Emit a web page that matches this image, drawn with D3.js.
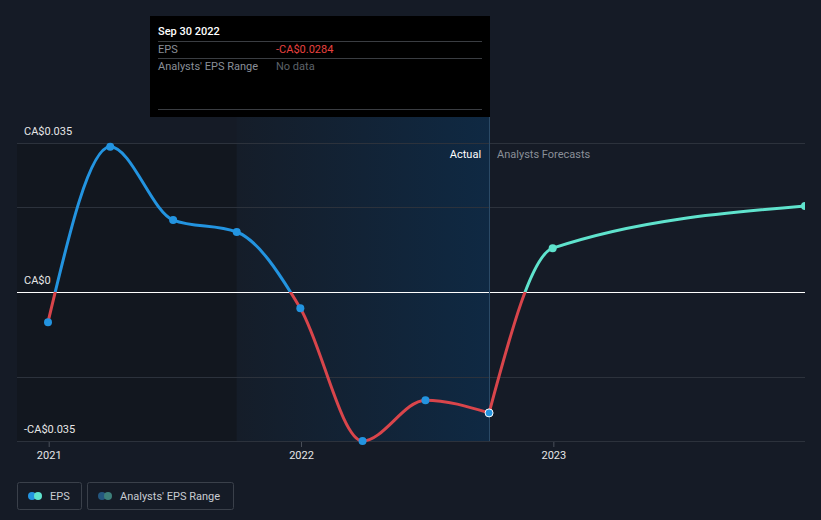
<!DOCTYPE html>
<html>
<head>
<meta charset="utf-8">
<script src="https://cdn.jsdelivr.net/npm/d3@7"></script>
<style>
  body { margin: 0; background: #151b26; }
  svg { display: block; font-family: Roboto, "Noto Sans", sans-serif; }
</style>
</head>
<body>
<div class="chart"></div>
<script>
const w = 821;
const h = 520;

// data
const actualDates = ["2020-12-31", "2021-03-31", "2021-06-30", "2021-09-30", "2021-12-31", "2022-03-31", "2022-06-30", "2022-09-30"];
const actualEps = [-0.0071, 0.0341, 0.0169, 0.0141, -0.0038, -0.0350, -0.0254, -0.0284];
const forecastDates = ["2022-09-30", "2022-12-31", "2023-12-31"];
const forecastEps = [-0.0284, 0.0103, 0.0202];
const yTicks = [-0.035, 0, 0.035];
const yGrid = [-0.035, -0.02, 0, 0.02, 0.035];
const yTickLabels = ["-CA$0.035", "CA$0", "CA$0.035"];
const xTicks = ["2021-01-01", "2022-01-01", "2023-01-01"];
const legendItems = ["EPS", "Analysts' EPS Range"];

const parse = d3.timeParse("%Y-%m-%d");
const actual = actualDates.map((d, i) => ({ date: parse(d), v: actualEps[i] }));
const forecast = forecastDates.map((d, i) => ({ date: parse(d), v: forecastEps[i] }));

const plotL = 17, plotR = 805, plotT = 143, plotB = 441;

const svg = d3.select(".chart").append("svg")
    .attr("width", w)
    .attr("height", h);

const xScale = d3.scaleTime()
    .domain([parse("2020-12-31"), parse("2023-12-31")])
    .range([48, 805]);
const yScale = d3.scaleLinear()
    .domain([-0.035, 0.035])
    .range([plotB, plotT]);

const defs = svg.append("defs");
const grad = defs.append("linearGradient").attr("id", "hl").attr("x1", 0).attr("x2", 1).attr("y1", 0).attr("y2", 0);
grad.append("stop").attr("offset", "0%").attr("stop-color", "#151d29");
grad.append("stop").attr("offset", "100%").attr("stop-color", "#0f2943");

defs.append("clipPath").attr("id", "above").append("rect")
    .attr("x", plotL).attr("y", 0).attr("width", plotR - plotL).attr("height", yScale(0));
defs.append("clipPath").attr("id", "below").append("rect")
    .attr("x", plotL).attr("y", yScale(0)).attr("width", plotR - plotL).attr("height", h - yScale(0));
defs.append("clipPath").attr("id", "plot").append("rect")
    .attr("x", plotL).attr("y", 0).attr("width", plotR - plotL).attr("height", h);

// shaded areas
const xSep = xScale(parse("2022-09-30"));
const xYearAgo = xScale(parse("2021-09-30"));
svg.append("rect")
    .attr("x", plotL).attr("y", plotT)
    .attr("width", xYearAgo - plotL).attr("height", plotB - plotT)
    .attr("fill", "#12171f");
svg.append("rect")
    .attr("x", xYearAgo).attr("y", 117)
    .attr("width", xSep - xYearAgo).attr("height", plotB - 117)
    .attr("fill", "url(#hl)");

// grid
svg.selectAll(".grid")
    .data(yGrid)
    .enter().append("line")
    .attr("class", "grid")
    .attr("x1", plotL).attr("x2", plotR)
    .attr("y1", d => Math.round(yScale(d)) + 0.5).attr("y2", d => Math.round(yScale(d)) + 0.5)
    .attr("stroke", d => d === 0 ? "#ffffff" : "#2c323c")
    .attr("stroke-width", 1);

svg.append("line")
    .attr("x1", Math.round(xSep) + 0.5).attr("x2", Math.round(xSep) + 0.5)
    .attr("y1", 117).attr("y2", plotB)
    .attr("stroke", "#2b4a66").attr("stroke-width", 1);

svg.append("text").attr("x", xSep - 8).attr("y", 158)
    .attr("text-anchor", "end").attr("fill", "#ffffff").attr("font-size", 11).text("Actual");
svg.append("text").attr("x", xSep + 8).attr("y", 158)
    .attr("fill", "#8a8f98").attr("font-size", 11).text("Analysts Forecasts");

// y labels
svg.selectAll(".ylab")
    .data(yTicks)
    .enter().append("text")
    .attr("class", "ylab")
    .attr("x", 24)
    .attr("y", d => yScale(d) - 8)
    .attr("fill", "#e6e6e6")
    .attr("font-size", 11)
    .text((d, i) => yTickLabels[i]);

// x axis
const xAxis = d3.axisBottom(xScale)
    .tickValues(xTicks.map(parse))
    .tickFormat(d3.timeFormat("%Y"))
    .tickSize(5)
    .tickPadding(4);
const gx = svg.append("g")
    .attr("transform", "translate(0," + (plotB + 1) + ")")
    .call(xAxis);
gx.select(".domain").remove();
gx.selectAll("line").attr("stroke", "#4a505a");
gx.selectAll("text").attr("fill", "#e6e6e6").attr("font-size", 11).attr("font-family", "Roboto, sans-serif");

// lines
const line = d3.line()
    .x(d => xScale(d.date))
    .y(d => yScale(d.v))
    .curve(d3.curveMonotoneX);

function drawLine(data, colAbove, colBelow) {
    svg.append("path").datum(data)
        .attr("d", line).attr("fill", "none")
        .attr("stroke", colAbove).attr("stroke-width", 3)
        .attr("clip-path", "url(#above)");
    svg.append("path").datum(data)
        .attr("d", line).attr("fill", "none")
        .attr("stroke", colBelow).attr("stroke-width", 3)
        .attr("clip-path", "url(#below)");
}
drawLine(actual, "#2394e0", "#d9454b");
drawLine(forecast, "#5fe3cd", "#d9454b");

const dots = svg.append("g").attr("clip-path", "url(#plot)");
dots.selectAll(".dot")
    .data(actual)
    .enter().append("circle")
    .attr("class", "dot")
    .attr("cx", d => xScale(d.date))
    .attr("cy", d => yScale(d.v))
    .attr("r", 4)
    .attr("fill", "#2394e0")
    .attr("stroke", (d, i) => i === actual.length - 1 ? "#ffffff" : "none")
    .attr("stroke-width", 1);
dots.selectAll(".fdot")
    .data(forecast.slice(1))
    .enter().append("circle")
    .attr("class", "fdot")
    .attr("cx", d => xScale(d.date))
    .attr("cy", d => yScale(d.v))
    .attr("r", 4)
    .attr("fill", "#5fe3cd");

// tooltip
const tip = svg.append("g").attr("transform", "translate(150,16)");
tip.append("rect").attr("width", 340).attr("height", 101).attr("fill", "#000000");
tip.append("text").attr("x", 8).attr("y", 19).attr("fill", "#ffffff")
    .attr("font-size", 11).attr("font-weight", 500).text("Sep 30 2022");
[25.5, 42.5, 93.5].forEach(yy => {
    tip.append("line").attr("x1", 8).attr("x2", 332).attr("y1", yy).attr("y2", yy)
        .attr("stroke", "#3a3d42");
});
tip.append("text").attr("x", 8).attr("y", 37).attr("fill", "#8a8f98").attr("font-size", 11).text("EPS");
tip.append("text").attr("x", 126).attr("y", 37).attr("fill", "#e8403f").attr("font-size", 11)
    .text("-CA$" + Math.abs(actualEps[actualEps.length - 1]).toFixed(4));
tip.append("text").attr("x", 8).attr("y", 54).attr("fill", "#8a8f98").attr("font-size", 11).text("Analysts' EPS Range");
tip.append("text").attr("x", 126).attr("y", 54).attr("fill", "#5d6269").attr("font-size", 11).text("No data");

// legend
const lg = svg.append("g");
const boxes = [{ x: 17, w: 64 }, { x: 87, w: 146 }];
const dotCols = [["#2394e0", "#5fe3cd"], ["#24577f", "#3d7f7a"]];
legendItems.forEach((t, i) => {
    const b = boxes[i];
    lg.append("rect").attr("x", b.x + 0.5).attr("y", 482.5).attr("width", b.w).attr("height", 27)
        .attr("rx", 2).attr("fill", "none").attr("stroke", "#3a404a");
    lg.append("circle").attr("cx", b.x + 15).attr("cy", 496).attr("r", 4).attr("fill", dotCols[i][0]);
    lg.append("circle").attr("cx", b.x + 21).attr("cy", 496).attr("r", 4).attr("fill", dotCols[i][1]);
    lg.append("text").attr("x", b.x + 33).attr("y", 500).attr("fill", "#c8ccd2")
        .attr("font-size", 11).text(t);
});
</script>
</body>
</html>
